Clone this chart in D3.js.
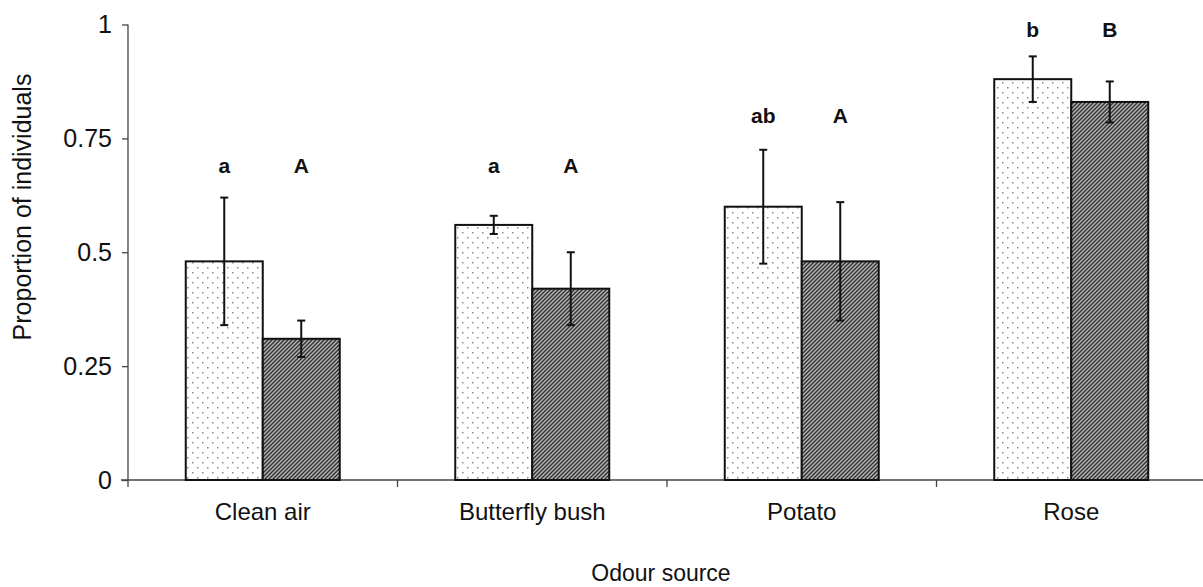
<!DOCTYPE html>
<html>
<head>
<meta charset="utf-8">
<script src="https://cdnjs.cloudflare.com/ajax/libs/d3/7.8.5/d3.min.js"></script>
<style>
  body { margin: 0; background: #fff; }
  svg text { font-family: "Liberation Sans", Arial, sans-serif; fill: #111; }
</style>
</head>
<body>
<svg id="chart" width="1203" height="587"></svg>
<script>
// data
var categories = ['Clean air', 'Butterfly bush', 'Potato', 'Rose'];
var seriesA = [0.48, 0.56, 0.60, 0.88];      // dotted bars
var seriesB = [0.31, 0.42, 0.48, 0.83];      // hatched bars
var errA = [0.14, 0.02, 0.125, 0.05];
var errB = [0.04, 0.08, 0.13, 0.045];
var lettersA = ['a', 'a', 'ab', 'b'];
var lettersB = ['A', 'A', 'A', 'B'];
var letterLevel = [0.69, 0.69, 0.80, 0.987];
var yTicks = [0, 0.25, 0.5, 0.75, 1];
var yTickLabels = ['0', '0.25', '0.5', '0.75', '1'];

var svg = d3.select('#chart');

// patterns
var defs = svg.append('defs');
var dots = defs.append('pattern')
  .attr('id', 'dots').attr('patternUnits', 'userSpaceOnUse')
  .attr('width', 10).attr('height', 10);
dots.append('rect').attr('width', 10).attr('height', 10).attr('fill', '#fff');
dots.append('rect').attr('x', 2).attr('y', 2).attr('width', 1.5).attr('height', 1.5).attr('fill', '#8a8a8a');
dots.append('rect').attr('x', 7).attr('y', 7).attr('width', 1.5).attr('height', 1.5).attr('fill', '#8a8a8a');

var hatch = defs.append('pattern')
  .attr('id', 'hatch').attr('patternUnits', 'userSpaceOnUse')
  .attr('width', 4).attr('height', 4);
hatch.append('rect').attr('width', 4).attr('height', 4).attr('fill', '#b8b8b8');
hatch.append('path')
  .attr('d', 'M-1,1 L1,-1 M0,4 L4,0 M3,5 L5,3')
  .attr('stroke', '#333').attr('stroke-width', 1.5);

var x = d3.scaleBand().domain(categories).range([128, 1206]);
var y = d3.scaleLinear().domain([0, 1]).range([480, 24.5]);
var barW = 77;

// y axis
var yAxis = d3.axisLeft(y).tickValues(yTicks)
  .tickFormat(function(d, i) { return yTickLabels[i]; })
  .tickSize(6).tickPadding(10);
var gy = svg.append('g').attr('transform', 'translate(128,0)').call(yAxis);
gy.select('.domain').attr('d', 'M0,' + y(1) + 'V487').attr('stroke', '#444').attr('stroke-width', 1.3);
gy.selectAll('.tick line').attr('stroke', '#444').attr('stroke-width', 1.3);
gy.selectAll('.tick text').style('font-size', '25px').attr('fill', '#111');

// x axis
var gx = svg.append('g').attr('transform', 'translate(0,480)');
gx.append('line').attr('x1', 121).attr('x2', 1203).attr('y1', 0).attr('y2', 0)
  .attr('stroke', '#444').attr('stroke-width', 1.3);
gx.selectAll('.xtick').data(categories.slice(1)).enter().append('line')
  .attr('x1', function(d) { return x(d); }).attr('x2', function(d) { return x(d); })
  .attr('y1', 0).attr('y2', 7).attr('stroke', '#444').attr('stroke-width', 1.3);
gx.selectAll('.xlab').data(categories).enter().append('text')
  .attr('x', function(d) { return x(d) + x.bandwidth() / 2; })
  .attr('y', 40).attr('text-anchor', 'middle').style('font-size', '24px')
  .text(function(d) { return d; });

// bars
var groups = svg.selectAll('.grp').data(categories).enter().append('g');
groups.append('rect')
  .attr('x', function(d) { return x(d) + x.bandwidth() / 2 - barW; })
  .attr('y', function(d, i) { return y(seriesA[i]); })
  .attr('width', barW)
  .attr('height', function(d, i) { return y(0) - y(seriesA[i]); })
  .attr('fill', 'url(#dots)').attr('stroke', '#111').attr('stroke-width', 2);
groups.append('rect')
  .attr('x', function(d) { return x(d) + x.bandwidth() / 2; })
  .attr('y', function(d, i) { return y(seriesB[i]); })
  .attr('width', barW)
  .attr('height', function(d, i) { return y(0) - y(seriesB[i]); })
  .attr('fill', 'url(#hatch)').attr('stroke', '#111').attr('stroke-width', 2);

// error bars
function errorBars(vals, errs, off) {
  var g = svg.append('g').attr('stroke', '#111').attr('stroke-width', 2);
  categories.forEach(function(c, i) {
    var cx = x(c) + x.bandwidth() / 2 + off;
    var y1 = y(vals[i] + errs[i]), y2 = y(vals[i] - errs[i]);
    g.append('line').attr('x1', cx).attr('x2', cx).attr('y1', y1).attr('y2', y2);
    g.append('line').attr('x1', cx - 4).attr('x2', cx + 4).attr('y1', y1).attr('y2', y1);
    g.append('line').attr('x1', cx - 4).attr('x2', cx + 4).attr('y1', y2).attr('y2', y2);
  });
}
errorBars(seriesA, errA, -barW / 2);
errorBars(seriesB, errB, barW / 2);

// significance letters
groups.append('text')
  .attr('x', function(d) { return x(d) + x.bandwidth() / 2 - barW / 2; })
  .attr('y', function(d, i) { return y(letterLevel[i]) + 7; })
  .attr('text-anchor', 'middle').style('font-size', '21px').style('font-weight', 'bold')
  .text(function(d, i) { return lettersA[i]; });
groups.append('text')
  .attr('x', function(d) { return x(d) + x.bandwidth() / 2 + barW / 2; })
  .attr('y', function(d, i) { return y(letterLevel[i]) + 7; })
  .attr('text-anchor', 'middle').style('font-size', '21px').style('font-weight', 'bold')
  .text(function(d, i) { return lettersB[i]; });

// titles
svg.append('text').attr('x', 661).attr('y', 581).attr('text-anchor', 'middle')
  .style('font-size', '23px').text('Odour source');
svg.append('text').attr('transform', 'translate(31,207) rotate(-90)')
  .attr('text-anchor', 'middle').style('font-size', '25px').text('Proportion of individuals');
</script>
</body>
</html>
